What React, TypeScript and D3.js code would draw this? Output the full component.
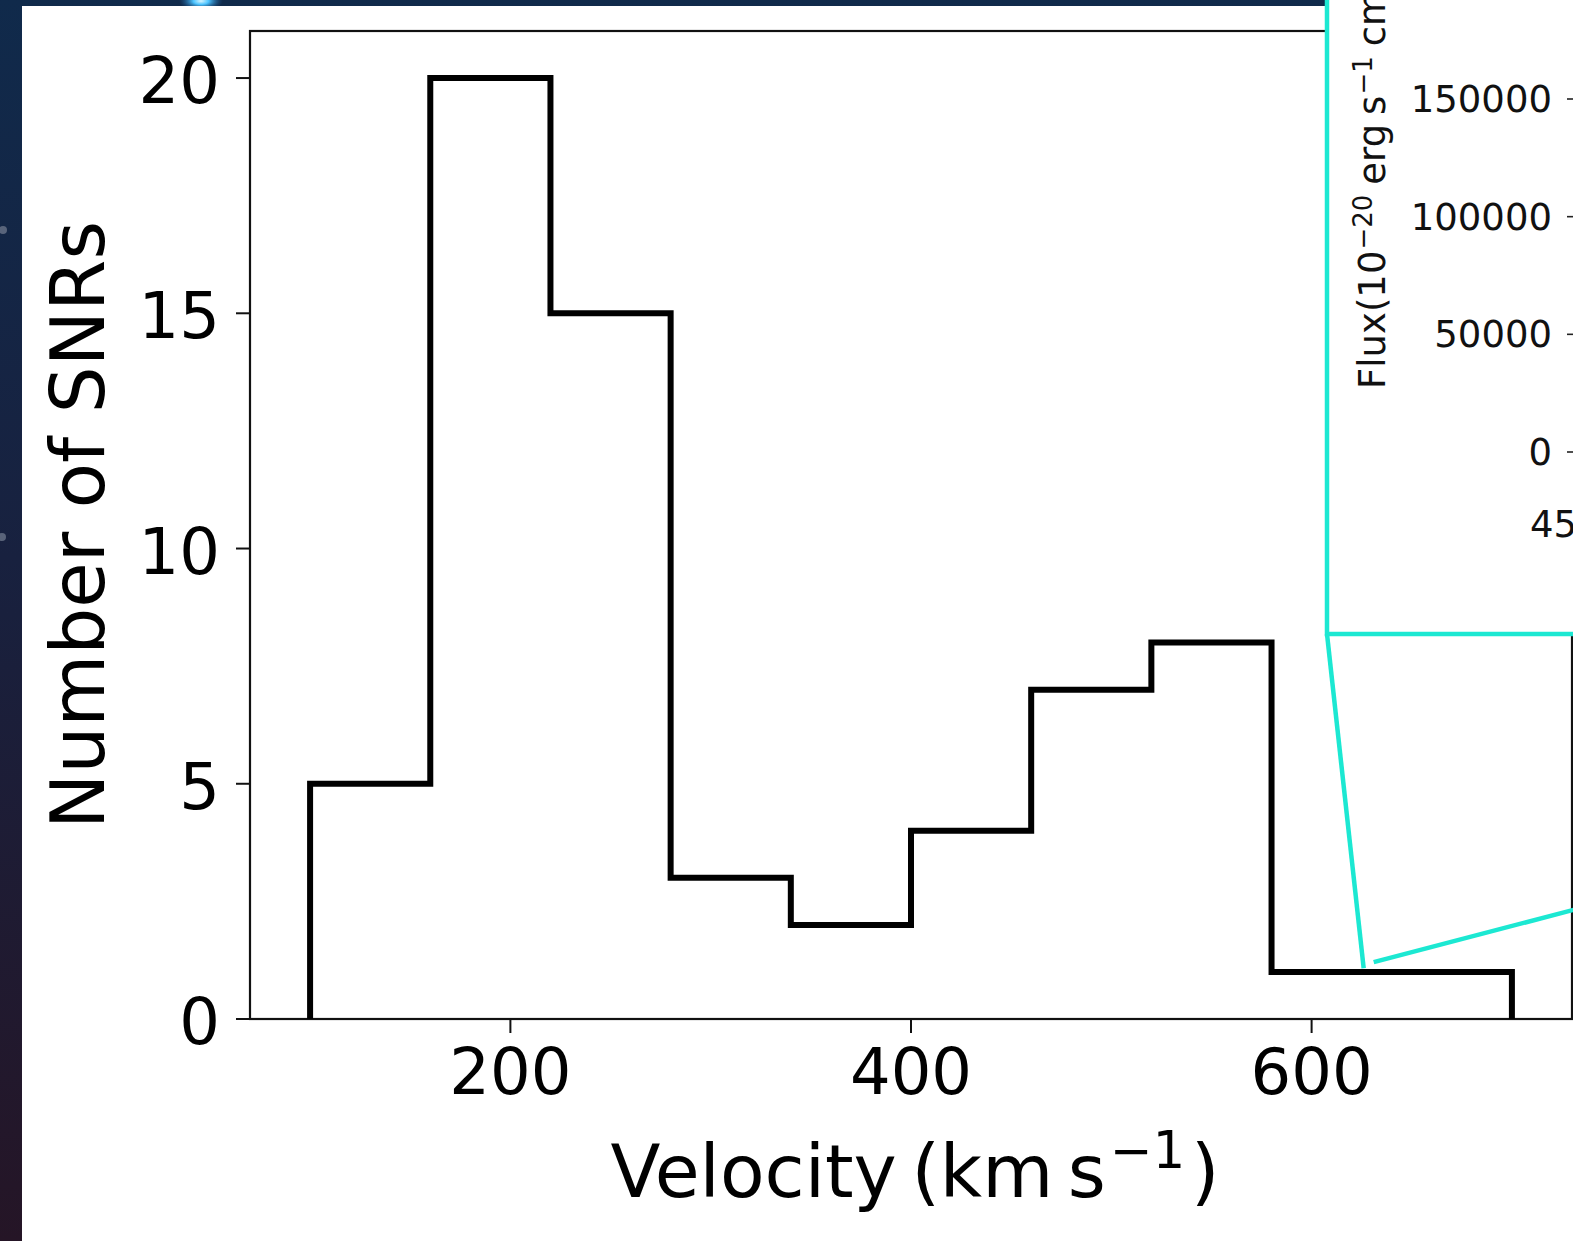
import React from "react";
import * as d3 from "d3";

// ---- data ----
const binEdges = [100, 160, 220, 280, 340, 400, 460, 520, 580, 640, 700];
const counts = [5, 20, 15, 3, 2, 4, 7, 8, 1, 1];
const xTicks = [200, 400, 600];
const yTicks = [0, 5, 10, 15, 20];
const xDomain = [70, 730];
const yDomain = [0, 21];
const insetYTicks = [0, 50000, 100000, 150000];
const insetXTicks = [4500];
const insetLinkPoints: [number, number][] = [
  [626, 1.08],
  [631, 1.21],
];

const W = 1573;
const H = 1241;
const FONT = "'DejaVu Sans', 'Liberation Sans', sans-serif";
const CYAN = "#1ce8d2";

export default function App() {
  const x = d3.scaleLinear().domain(xDomain).range([250, 1572]);
  const y = d3.scaleLinear().domain(yDomain).range([1019, 31]);

  // step outline of the histogram
  const pts: [number, number][] = [[binEdges[0], 0]];
  counts.forEach((c, i) => {
    pts.push([binEdges[i], c]);
    pts.push([binEdges[i + 1], c]);
  });
  pts.push([binEdges[binEdges.length - 1], 0]);
  const stepLine = d3
    .line<[number, number]>()
    .x((d) => x(d[0]))
    .y((d) => y(d[1]));

  // inset axes (mostly outside the visible canvas)
  const insetLeft = 1327;
  const insetBottom = 634;
  const insetSpineX = 1579;
  const iy = d3.scaleLinear().domain([0, 150000]).range([452, 99]);
  const ix = d3.scaleLinear().domain([4500, 7000]).range([insetSpineX - 2, insetSpineX + 1200]);

  const corner: [number, number] = [insetLeft, insetBottom];
  const linkA = [x(insetLinkPoints[0][0]), y(insetLinkPoints[0][1])];
  const linkB = [x(insetLinkPoints[1][0]), y(insetLinkPoints[1][1])];

  return (
    <div style={{ position: "absolute", left: 0, top: 0, width: W, height: H }}>
      <svg width={W} height={H} style={{ display: "block" }} fontFamily={FONT}>
        <defs>
          <linearGradient id="bg" x1="0" y1="0" x2="0" y2="1">
            <stop offset="0" stopColor="#102a4b" />
            <stop offset="0.45" stopColor="#18213f" />
            <stop offset="1" stopColor="#251526" />
          </linearGradient>
          <radialGradient id="glow" cx="0.5" cy="0.5" r="0.5">
            <stop offset="0" stopColor="#d8f6ff" />
            <stop offset="0.35" stopColor="#4cc4ff" />
            <stop offset="1" stopColor="#1a5a9a" stopOpacity="0" />
          </radialGradient>
        </defs>
        <rect x={0} y={0} width={W} height={H} fill="url(#bg)" />
        <ellipse cx={201} cy={1} rx={22} ry={10} fill="url(#glow)" />
        <circle cx={3} cy={230} r={4} fill="#6a7488" opacity={0.8} />
        <circle cx={2} cy={537} r={4} fill="#6a7488" opacity={0.8} />
        <rect x={22} y={6} width={W - 22} height={H - 6} fill="#ffffff" />

        {/* main axes frame */}
        <rect
          x={x(xDomain[0])}
          y={y(yDomain[1])}
          width={x(xDomain[1]) - x(xDomain[0])}
          height={y(yDomain[0]) - y(yDomain[1])}
          fill="none"
          stroke="#111"
          strokeWidth={2.2}
        />
        {/* y ticks */}
        {yTicks.map((t) => (
          <g key={"y" + t}>
            <line x1={x(xDomain[0]) - 14} x2={x(xDomain[0])} y1={y(t)} y2={y(t)} stroke="#111" strokeWidth={2} />
            <text x={x(xDomain[0]) - 30} y={y(t) + 25} fontSize={64} textAnchor="end" fill="#000">
              {t}
            </text>
          </g>
        ))}
        {/* x ticks */}
        {xTicks.map((t) => (
          <g key={"x" + t}>
            <line x1={x(t)} x2={x(t)} y1={y(0)} y2={y(0) + 14} stroke="#111" strokeWidth={2} />
            <text x={x(t)} y={y(0) + 75} fontSize={64} textAnchor="middle" fill="#000">
              {t}
            </text>
          </g>
        ))}

        {/* histogram */}
        <path d={stepLine(pts) || ""} fill="none" stroke="#000" strokeWidth={6} strokeLinejoin="miter" />

        {/* axis labels */}
        <text x={915} y={1197} fontSize={73} textAnchor="middle" fill="#000">
          Velocity{"\u2009"}(km{"\u2009"}s
          <tspan fontSize={51} dx={4} dy={-29}>
            −1
          </tspan>
          <tspan dx={6} dy={29}>
            )
          </tspan>
        </text>
        <text transform="translate(104,525) rotate(-90)" fontSize={74} textAnchor="middle" fill="#000">
          Number of SNRs
        </text>

        {/* inset */}
        <rect
          x={insetLeft}
          y={-20}
          width={W - insetLeft + 40}
          height={insetBottom + 20}
          fill="#ffffff"
          stroke={CYAN}
          strokeWidth={4.5}
        />
        {insetYTicks.map((t) => (
          <g key={"iy" + t}>
            <line x1={insetSpineX - 12} x2={insetSpineX} y1={iy(t)} y2={iy(t)} stroke="#222" strokeWidth={1.6} />
            <text x={1552} y={iy(t) + 13} fontSize={37} textAnchor="end" fill="#111">
              {t}
            </text>
          </g>
        ))}
        {insetXTicks.map((t) => (
          <text key={"ix" + t} x={ix(t)} y={537} fontSize={37} textAnchor="middle" fill="#111">
            {t}
          </text>
        ))}
        <text transform="translate(1385,389) rotate(-90)" fontSize={37} textAnchor="start" fill="#111">
          Flux(10
          <tspan fontSize={26} dx={1} dy={-13}>
            −20
          </tspan>
          <tspan dx={10} dy={13}>
            erg
          </tspan>
          <tspan dx={9}>s</tspan>
          <tspan fontSize={26} dx={1} dy={-13}>
            −1
          </tspan>
          <tspan dx={10} dy={13}>
            cm
          </tspan>
          <tspan fontSize={26} dx={1} dy={-13}>
            −2
          </tspan>
          <tspan dx={10} dy={13}>
            Å
          </tspan>
          <tspan fontSize={26} dx={1} dy={-13}>
            −1
          </tspan>
          <tspan dy={13}>)</tspan>
        </text>

        {/* inset connector lines */}
        <line x1={corner[0]} y1={corner[1]} x2={linkA[0]} y2={linkA[1]} stroke={CYAN} strokeWidth={4.5} />
        <line x1={linkB[0]} y1={linkB[1]} x2={W + 2} y2={909.5} stroke={CYAN} strokeWidth={4.5} />
      </svg>
    </div>
  );
}
